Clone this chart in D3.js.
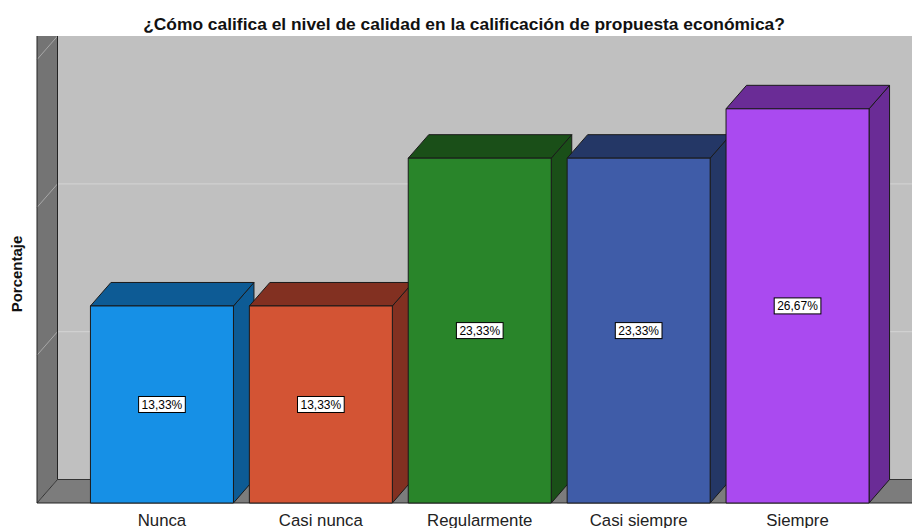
<!DOCTYPE html>
<html><head><meta charset="utf-8">
<script src="https://cdn.jsdelivr.net/npm/d3@7"></script>
<style>body{margin:0;background:#fff}svg{display:block}</style>
</head><body>
<svg id="c" width="912" height="528"></svg>
<script>
const categories = ["Nunca", "Casi nunca", "Regularmente", "Casi siempre", "Siempre"];
const values = [13.33, 13.33, 23.33, 23.33, 26.67];
const frontColors = ["#1690e6", "#d35434", "#29852a", "#3f5ca8", "#aa4af0"];
const darkColors = ["#0d5b95", "#823021", "#1a4f18", "#243766", "#6a2c96"];
const yTicks = [0, 10, 20, 30];
const title = "¿Cómo califica el nivel de calidad en la calificación de propuesta económica?";
const yTitle = "Porcentaje";

const W = 912, H = 528;
const dx = 20.5, dy = 23.5;
const floorY = 503, topY = 36, wallX = 37;
const svg = d3.select("#c");

const x = d3.scaleBand().domain(categories).range([82.5, 877]).paddingInner(0.1).paddingOuter(0.05);
const y = d3.scaleLinear().domain([0, 30]).range([floorY, floorY - 30 * 14.78]);

svg.append("clipPath").attr("id", "pc").append("rect")
  .attr("x", 0).attr("y", topY).attr("width", W).attr("height", H - topY);
const g = svg.append("g").attr("clip-path", "url(#pc)");

// back plane
g.append("rect").attr("x", wallX + dx).attr("y", topY).attr("width", W).attr("height", floorY - dy - topY).attr("fill", "#c0c0c0");
yTicks.filter(t => t > 0 && t < 30).forEach(t => {
  g.append("line").attr("x1", wallX + dx).attr("x2", W).attr("y1", y(t) - dy).attr("y2", y(t) - dy)
    .attr("stroke", "#d4d4d4").attr("stroke-width", 1);
});
// left wall
g.append("polygon").attr("points", [[wallX, topY], [wallX + dx, topY], [wallX + dx, floorY - dy], [wallX, floorY]].join(" "))
  .attr("fill", "#747474");
yTicks.filter(t => t > 0).forEach(t => {
  g.append("line").attr("x1", wallX).attr("y1", y(t)).attr("x2", wallX + dx).attr("y2", y(t) - dy)
    .attr("stroke", "#a8a8a8").attr("stroke-width", 1);
});
// floor
g.append("polygon").attr("points", [[wallX, floorY], [wallX + dx, floorY - dy], [W + 10, floorY - dy], [W + 10, floorY]].join(" "))
  .attr("fill", "#7c7c7c");
g.append("line").attr("x1", wallX + dx).attr("x2", W).attr("y1", floorY - dy).attr("y2", floorY - dy).attr("stroke", "#333");
g.append("line").attr("x1", wallX).attr("y1", floorY).attr("x2", wallX + dx).attr("y2", floorY - dy).attr("stroke", "#333");
g.append("line").attr("x1", wallX + dx).attr("x2", wallX + dx).attr("y1", topY).attr("y2", floorY - dy).attr("stroke", "#222");
g.append("line").attr("x1", wallX).attr("x2", wallX).attr("y1", topY).attr("y2", floorY).attr("stroke", "#222");
g.append("line").attr("x1", wallX).attr("x2", W).attr("y1", floorY).attr("y2", floorY).attr("stroke", "#222");

// bars
const fmt = v => d3.format(".2f")(v).replace(".", ",") + "%";
categories.forEach((c, i) => {
  const x0 = x(c), w = x.bandwidth(), x1 = x0 + w, yt = y(values[i]), yb = y(0);
  const bg = g.append("g").attr("stroke", "#1a1a1a").attr("stroke-width", 1).attr("stroke-linejoin", "round");
  bg.append("polygon").attr("points", [[x1, yt], [x1 + dx, yt - dy], [x1 + dx, yb - dy], [x1, yb]].join(" ")).attr("fill", darkColors[i]);
  bg.append("polygon").attr("points", [[x0, yt], [x0 + dx, yt - dy], [x1 + dx, yt - dy], [x1, yt]].join(" ")).attr("fill", darkColors[i]);
  bg.append("rect").attr("x", x0).attr("y", yt).attr("width", w).attr("height", yb - yt).attr("fill", frontColors[i]);
  const cx = x0 + w / 2, cy = (yt + yb) / 2;
  const t = g.append("text").attr("x", cx).attr("y", cy + 4.2).attr("text-anchor", "middle")
    .attr("font-family", "Liberation Sans, Arial, sans-serif").attr("font-size", 12).attr("fill", "#000").text(fmt(values[i]));
  const tw = t.node().getComputedTextLength();
  g.insert("rect", () => t.node()).attr("x", cx - tw / 2 - 3).attr("y", cy - 8).attr("width", tw + 6).attr("height", 16)
    .attr("fill", "#fff").attr("stroke", "#000").attr("stroke-width", 1);
});

// category labels
categories.forEach(c => {
  svg.append("text").attr("x", x(c) + x.bandwidth() / 2).attr("y", 526).attr("text-anchor", "middle")
    .attr("font-family", "Liberation Sans, Arial, sans-serif").attr("font-size", 16.8).attr("fill", "#222").text(c);
});

// title
svg.append("text").attr("x", 464).attr("y", 30).attr("text-anchor", "middle")
  .attr("font-family", "Liberation Sans, Arial, sans-serif").attr("font-weight", "bold").attr("font-size", 17.4)
  .attr("fill", "#111").text(title);
// y title
svg.append("text").attr("transform", "translate(21.5,274) rotate(-90)").attr("text-anchor", "middle")
  .attr("font-family", "Liberation Sans, Arial, sans-serif").attr("font-weight", "bold").attr("font-size", 15)
  .attr("fill", "#111").text(yTitle);
</script>
</body></html>
